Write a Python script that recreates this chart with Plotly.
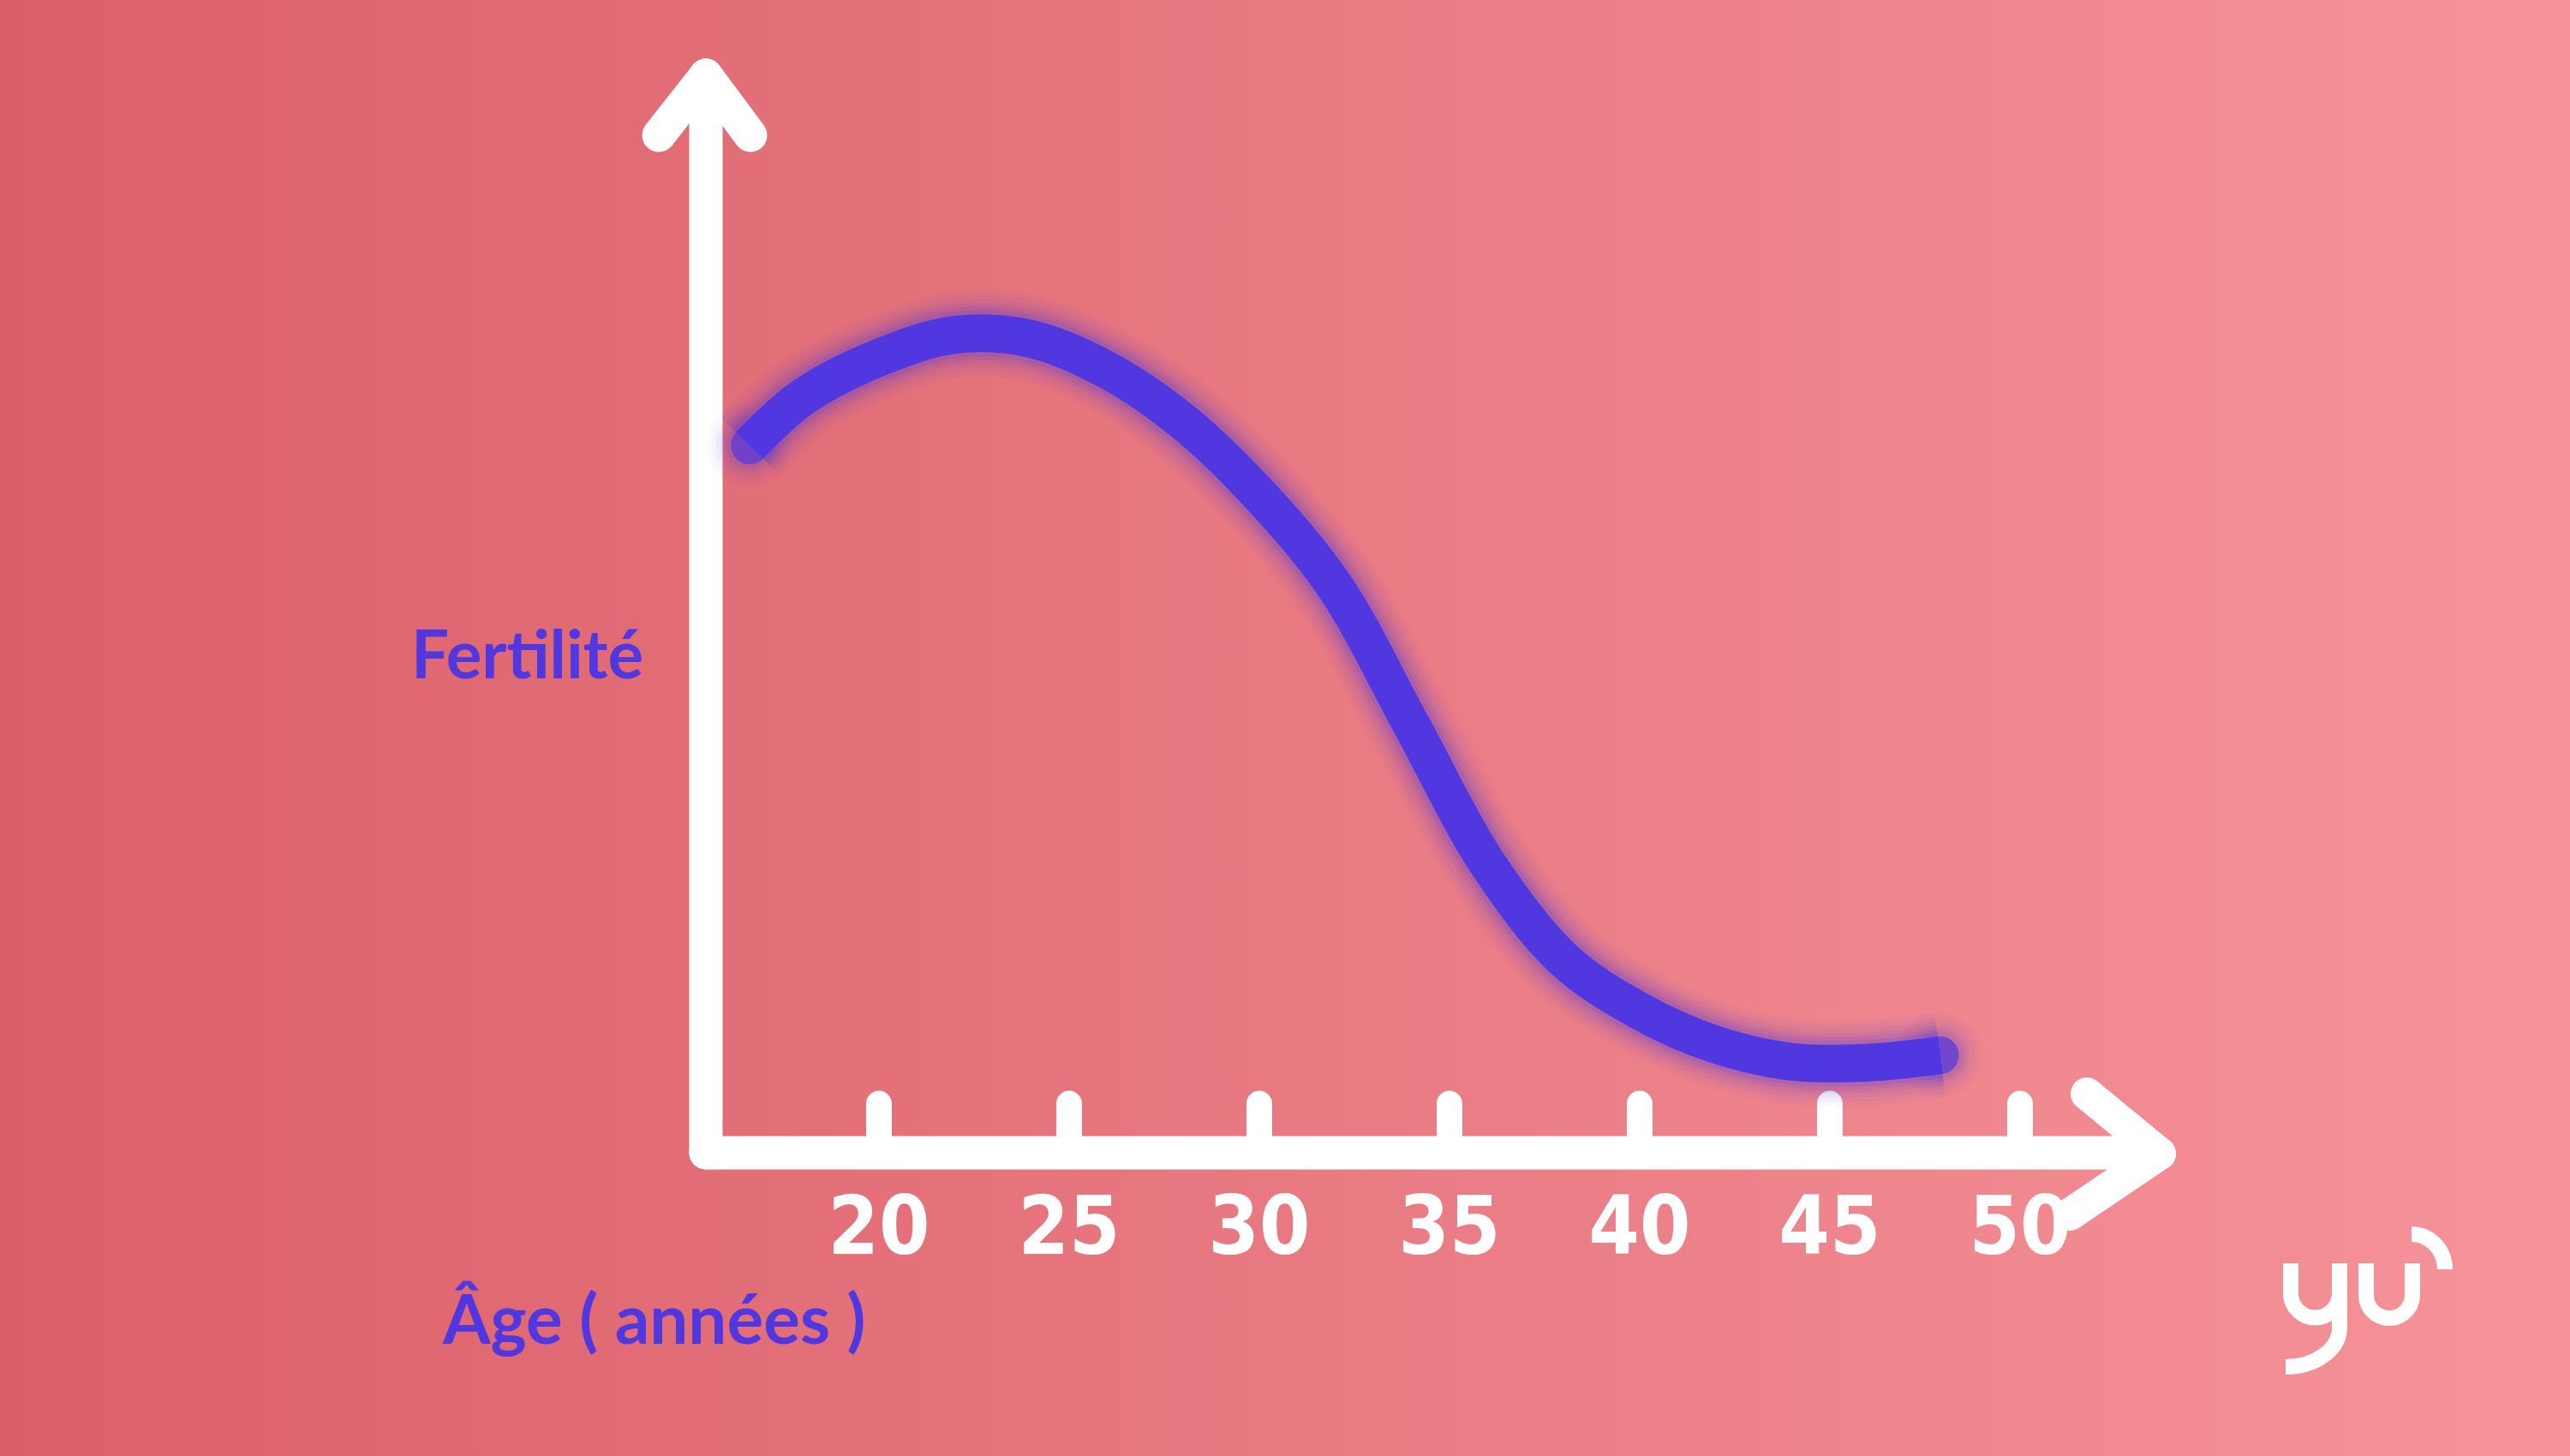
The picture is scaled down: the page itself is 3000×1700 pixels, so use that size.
import base64
import math
import plotly.graph_objects as go

# ---------------- data ----------------
AGES = [16.6, 18, 20, 22, 24, 26, 28, 30, 32, 34, 36, 38, 40, 42, 44, 46, 47.9]
FERTILITY = [86.3, 92.2, 97.0, 99.8, 99.3, 95.5, 89.2, 80.3, 69.0, 52.2, 35.3, 23.6, 17.3, 13.2, 11.1, 11.0, 11.9]
TICK_AGES = [20, 25, 30, 35, 40, 45, 50]
TICK_LABELS = ["20", "25", "30", "35", "40", "45", "50"]
X_TITLE = "Âge ( années )"
Y_TITLE = "Fertilité"

# ---------------- styling ----------------
W, H = 3000, 1700
PURPLE = "#5137DF"
WHITE = "#FFFFFF"
BG_LEFT, BG_RIGHT = "#DA5F69", "#F6939A"
X_RANGE = [-3.108, 64.46]
Y_DOMAIN = [354 / 1700, 1.0]
Y_RANGE = [0, 140.65]
TICK_HEIGHT = 6.0

fig = go.Figure()

# background gradient as an SVG image
svg = (
    f'<svg xmlns="http://www.w3.org/2000/svg" width="{W}" height="{H}">'
    '<defs><linearGradient id="g" x1="0" y1="0" x2="1" y2="0">'
    f'<stop offset="0" stop-color="{BG_LEFT}"/><stop offset="1" stop-color="{BG_RIGHT}"/>'
    '</linearGradient></defs>'
    f'<rect width="{W}" height="{H}" fill="url(#g)"/></svg>'
)
src = "data:image/svg+xml;base64," + base64.b64encode(svg.encode()).decode()


def deco(segments, width):
    """white strokes with rounded ends/joins (pixel overlay axes)"""
    xs, ys, mx, my = [], [], [], []
    for seg in segments:
        for p in seg:
            xs.append(p[0]); ys.append(p[1])
            mx.append(p[0]); my.append(p[1])
        xs.append(None); ys.append(None)
    return [
        go.Scatter(x=xs, y=ys, xaxis="x", yaxis="y", mode="lines",
                   line=dict(color=WHITE, width=width), hoverinfo="skip", showlegend=False),
        go.Scatter(x=mx, y=my, xaxis="x", yaxis="y", mode="markers",
                   marker=dict(size=width, color=WHITE, line=dict(width=0)),
                   hoverinfo="skip", showlegend=False),
    ]


# hand-drawn axes
for tr in deco([[(769, 158), (824, 88)], [(876, 158), (824, 88)], [(824, 88), (824, 1346)],
                [(824, 1346), (2515, 1346)]], 39):
    fig.add_trace(tr)
for tr in deco([[(2436, 1277), (2521, 1347)], [(2416, 1418), (2521, 1347)]], 38):
    fig.add_trace(tr)

# tick marks on the data axes
tx, ty = [], []
for a in TICK_AGES:
    tx += [a, a, None]
    ty += [0, TICK_HEIGHT, None]
fig.add_trace(go.Scatter(x=tx, y=ty, xaxis="x2", yaxis="y2", mode="lines",
                         line=dict(color=WHITE, width=30), hoverinfo="skip", showlegend=False))
fig.add_trace(go.Scatter(x=TICK_AGES, y=[TICK_HEIGHT] * len(TICK_AGES), xaxis="x2", yaxis="y2",
                         mode="markers", marker=dict(size=30, color=WHITE, line=dict(width=0)),
                         hoverinfo="skip", showlegend=False))

# glowing curve
n = len(AGES)
for w, a in [(100, 0.035), (90, 0.045), (80, 0.06), (70, 0.08), (62, 0.10), (54, 0.14)]:
    col = f"rgba(81,55,223,{a})"
    fig.add_trace(go.Scatter(
        x=AGES, y=FERTILITY, xaxis="x2", yaxis="y2", mode="lines+markers",
        line=dict(color=col, width=w, shape="spline", smoothing=1.0),
        marker=dict(size=[w] + [0] * (n - 2) + [w], color=col, line=dict(width=0)),
        hoverinfo="skip", showlegend=False,
    ))
fig.add_trace(go.Scatter(
    x=AGES, y=FERTILITY, xaxis="x2", yaxis="y2", mode="lines+markers",
    line=dict(color=PURPLE, width=44, shape="spline", smoothing=1.0),
    marker=dict(size=[44] + [0] * (n - 2) + [44], color=PURPLE, line=dict(width=0)),
    hoverinfo="skip", showlegend=False,
))


# logo "yu" drawn with bezier paths
def arc(cx, cy, rx, ry, a0, a1):
    k = 4 / 3 * math.tan((a1 - a0) / 4)
    p0 = (cx + rx * math.cos(a0), cy + ry * math.sin(a0))
    p3 = (cx + rx * math.cos(a1), cy + ry * math.sin(a1))
    p1 = (p0[0] - k * rx * math.sin(a0), p0[1] + k * ry * math.cos(a0))
    p2 = (p3[0] + k * rx * math.sin(a1), p3[1] - k * ry * math.cos(a1))
    return f" C {p1[0]:.1f} {p1[1]:.1f} {p2[0]:.1f} {p2[1]:.1f} {p3[0]:.1f} {p3[1]:.1f}"


pi = math.pi
logo = (
    "M 2674 1475 L 2674 1510" + arc(2702.5, 1510, 28.5, 28.5, pi, pi / 2) + arc(2702.5, 1510, 28.5, 28.5, pi / 2, 0)
    + " M 2731 1475 L 2731 1550" + arc(2668, 1550, 63, 46, 0, pi / 2)
    + " M 2762 1475 L 2762 1512" + arc(2789, 1512, 27, 27, pi, pi / 2) + arc(2789, 1512, 27, 27, pi / 2, 0)
    + " L 2816 1475"
    + " M 2815 1441" + arc(2815, 1482, 39, 41, -pi / 2, 0)
)
shapes = [dict(type="path", path=logo, xref="x", yref="y", line=dict(color=WHITE, width=18),
               fillcolor="rgba(0,0,0,0)", layer="above")]

label_font = dict(family="Lato, Open Sans, sans-serif", size=78, color=PURPLE, weight="bold")
annotations = [
    dict(text=Y_TITLE, x=615 / W, y=1 - 762 / H, xref="paper", yref="paper",
         xanchor="center", yanchor="middle", showarrow=False, font=label_font),
    dict(text=X_TITLE, x=763 / W, y=1 - 1538 / H, xref="paper", yref="paper",
         xanchor="center", yanchor="middle", showarrow=False, font=dict(label_font, size=80)),
]

fig.update_layout(
    width=W, height=H, autosize=False,
    margin=dict(l=0, r=0, t=0, b=0, pad=0),
    paper_bgcolor="#E87981", plot_bgcolor="rgba(0,0,0,0)",
    showlegend=False, hovermode=False,
    images=[dict(source=src, xref="paper", yref="paper", x=0, y=1, sizex=1, sizey=1,
                 xanchor="left", yanchor="top", sizing="stretch", layer="below")],
    xaxis=dict(range=[0, W], domain=[0, 1], anchor="y", visible=False, fixedrange=True),
    yaxis=dict(range=[H, 0], domain=[0, 1], anchor="x", visible=False, fixedrange=True),
    xaxis2=dict(range=X_RANGE, domain=[0, 1], anchor="y2", showgrid=False, zeroline=False,
                showline=False, ticks="", tickmode="array", tickvals=TICK_AGES, ticktext=TICK_LABELS,
                tickfont=dict(family="Liberation Sans Narrow, DejaVu Sans Condensed, Roboto, sans-serif",
                              size=95, color=WHITE, weight="bold"),
                ticklabelstandoff=22, fixedrange=True),
    yaxis2=dict(range=Y_RANGE, domain=Y_DOMAIN, anchor="x2", visible=False, fixedrange=True),
    shapes=shapes, annotations=annotations,
)

fig.write_html("out.html", config=dict(displayModeBar=False, staticPlot=True),
               post_script="document.body.style.margin='0';")
